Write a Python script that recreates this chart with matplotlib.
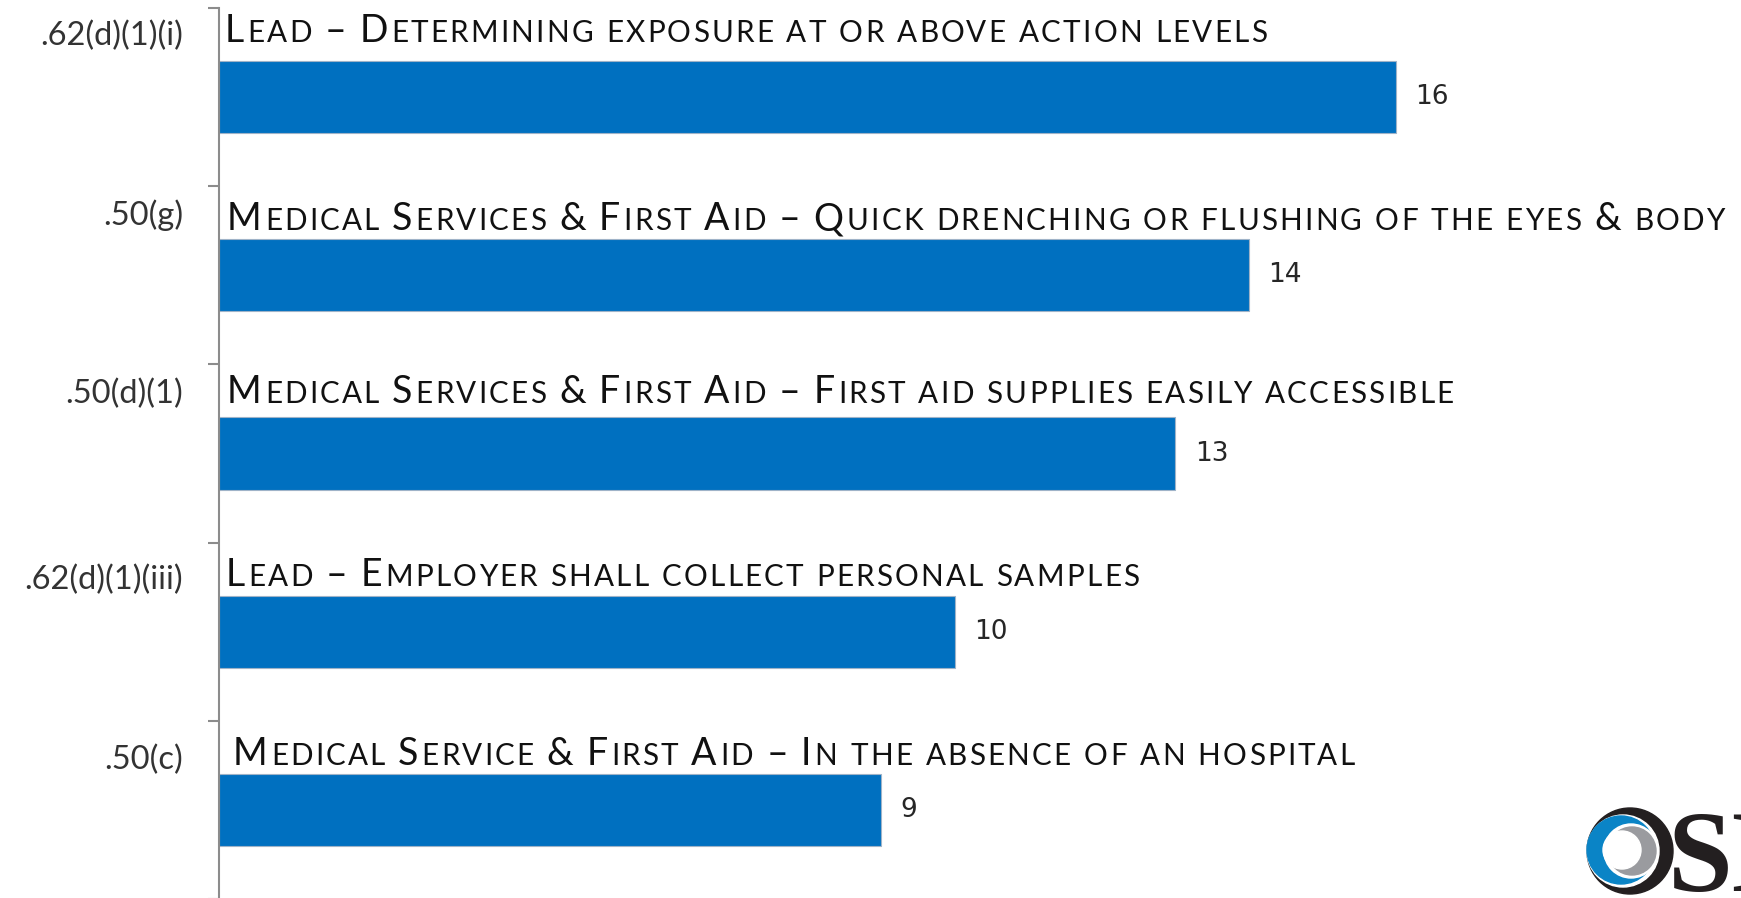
import re
import matplotlib
matplotlib.use('Agg')
import matplotlib.pyplot as plt
from matplotlib.patches import Ellipse
from matplotlib.font_manager import FontProperties

# data
codes = ['.62(d)(1)(i)', '.50(g)', '.50(d)(1)', '.62(d)(1)(iii)', '.50(c)']
titles = [
    'Lead – Determining exposure at or above action levels',
    'Medical Services & First Aid – Quick drenching or flushing of the eyes & body',
    'Medical Services & First Aid – First aid supplies easily accessible',
    'Lead – Employer shall collect personal samples',
    'Medical Service & First Aid – In the absence of an hospital',
]
counts = [16, 14, 13, 10, 9]

# layout (pixels below each band's top tick)
title_base = [34, 44, 39, 43, 44]
title_x = [225, 227, 227, 226, 233]
code_mid = [28, 29, 30, 37, 39]

W, H = 1741, 898
FONT = 'Lato'
BLUE = '#0070C0'

fig = plt.figure(figsize=(W / 100, H / 100), dpi=100)
ax = fig.add_axes([219 / W, -1 / H, 1 - 219 / W, 891 / H])

y = list(range(len(counts)))
ax.barh(y, counts, height=0.405, color=BLUE, edgecolor='#9fb3c8', linewidth=0.8)
ax.set_xlim(0, 20.69)
ax.set_ylim(len(counts) - 0.5, -0.5)

ax.set_yticks([i - 0.5 for i in range(len(counts) + 1)])
ax.set_yticklabels([])
ax.tick_params(axis='y', direction='out', length=8, width=1.5, color='#8c8c8c')
ax.set_xticks([])
for s in ['top', 'right', 'bottom']:
    ax.spines[s].set_visible(False)
ax.spines['left'].set_color('#8c8c8c')
ax.spines['left'].set_linewidth(1.5)

# value labels
for i, v in enumerate(counts):
    ax.annotate(str(v), (v, i), xytext=(14, 0), textcoords='offset points',
                va='center', ha='left', fontsize=19, family='DejaVu Sans',
                color='#262626')

fig.canvas.draw()
r = fig.canvas.get_renderer()


def text_w(s, size):
    fp = FontProperties(family=FONT, size=size)
    return r.get_text_width_height_descent(s, fp, ismath=False)[0]


def small_caps(x, yb, s, size, small=0.79, track=2.2, color='#111111'):
    # x, yb in pixels from the top-left corner, yb is the baseline
    sp = text_w('I I', size * small) - text_w('II', size * small)
    for k, word in enumerate(s.split(' ')):
        if k:
            x += sp + track
        for run in re.findall(r'[a-z]+|[^a-z]+', word):
            sz = size * small if run.islower() else size
            up = run.upper()
            for j, ch in enumerate(up):
                right = x + text_w(up[:j + 1], sz) + j * track
                fig.text(right / W, 1 - yb / H, ch, fontsize=sz, family=FONT,
                         color=color, va='baseline', ha='right')
            x += text_w(up, sz) + len(up) * track + size * 0.04


tick_px = [ax.transData.transform((0, i - 0.5))[1] for i in range(len(counts))]
for i, (code, title) in enumerate(zip(codes, titles)):
    top = H - tick_px[i]
    small_caps(title_x[i], top + title_base[i], title, 27)
    fig.text(183 / W, 1 - (top + code_mid[i]) / H, code, fontsize=23.5, family=FONT,
             color='#333333', ha='right', va='center')

# logo in the corner (partly cut off)
def circ(cx, cy, rad, col):
    fig.patches.append(Ellipse((cx / W, 1 - cy / H), 2 * rad / W, 2 * rad / H,
                               transform=fig.transFigure, color=col, zorder=5))


circ(1630, 851, 43, '#231f20')
circ(1623, 851, 36, 'white')
circ(1621, 850, 34, '#0a84c6')
circ(1631, 851, 27, 'white')
circ(1632, 851, 24, '#9a9b9f')
circ(1622, 850, 19, 'white')
fig.text(1668 / W, 1 - 891 / H, 'SH', fontsize=84, family='Liberation Serif',
         weight='bold', color='#231f20', va='baseline', ha='left')

fig.savefig('out.png', dpi=100)
